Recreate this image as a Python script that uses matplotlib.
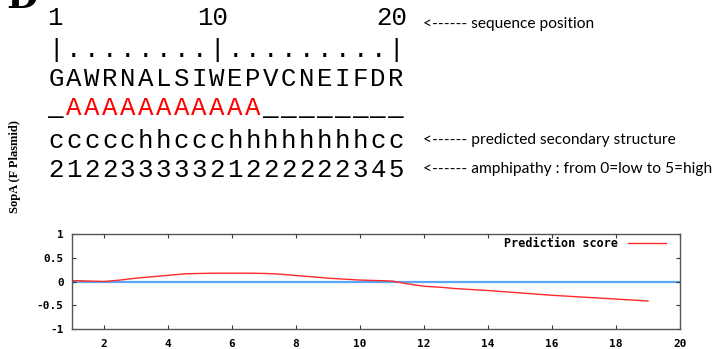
import matplotlib
matplotlib.use('Agg')
import matplotlib.pyplot as plt

# ----- data -----
ruler_labels = ['1', '10', '20']
ruler = '|........|.........|'
sequence = 'GAWRNALSIWEPVCNEIFDR'
helix_row = '_AAAAAAAAAAA________'
structure = 'ccccchhccchhhhhhhhcc'
amphipathy = '21223333321222222345'
notes = ['<------ sequence position',
         '<------ predicted secondary structure',
         '<------ amphipathy : from 0=low to 5=high']

position = [1, 1.5, 2, 2.5, 3, 3.5, 4, 4.5, 5, 5.5, 6, 6.5, 7, 7.5, 8, 8.5,
            9, 9.5, 10, 10.5, 11, 11.5, 12, 12.5, 13, 14, 15, 16, 17, 18, 19]
score = [0.02, 0.01, 0.0, 0.03, 0.07, 0.10, 0.13, 0.16, 0.17, 0.175, 0.175,
         0.175, 0.17, 0.155, 0.125, 0.10, 0.07, 0.05, 0.03, 0.02, 0.01,
         -0.05, -0.10, -0.12, -0.15, -0.19, -0.24, -0.29, -0.33, -0.37, -0.41]
xticks = [2, 4, 6, 8, 10, 12, 14, 16, 18, 20]
yticks = [-1, -0.5, 0, 0.5, 1]
ytick_labels = ['-1', '-0.5', '0', '0.5', '1']

W, H = 712, 349
fig = plt.figure(figsize=(W / 100, H / 100), dpi=100)

def fx(px):
    return px / W

def fy(py):
    return 1 - py / H

MONO = 'Liberation Mono'
SEQ_SIZE = 18.5
col0, colw = 56, 17.9

def put_row(s, base_y, colors=None):
    for i, ch in enumerate(s):
        c = colors(ch) if colors else 'black'
        fig.text(fx(col0 + i * colw), fy(base_y), ch, ha='center', va='baseline',
                 family=MONO, fontsize=SEQ_SIZE, color=c)

# panel letter, cut off at the top
fig.text(fx(22), fy(8), 'D', ha='center', va='baseline', family='DejaVu Serif',
         fontweight='bold', fontsize=26)

# sequence position numbers
for lab, cx in zip(ruler_labels, [55, 213, 392]):
    fig.text(fx(cx), fy(25), lab, ha='center', va='baseline', family=MONO,
             fontsize=SEQ_SIZE)

put_row(ruler, 57)
put_row(sequence, 86)
put_row(helix_row, 115, colors=lambda ch: 'red' if ch == 'A' else 'black')
put_row(structure, 148)
put_row(amphipathy, 177)

# annotations on the right (last one runs off the edge as in the original)
for txt, y in zip(notes, [24, 140, 169]):
    fig.text(fx(423), fy(y), txt, ha='left', va='center', family='Lato',
             fontsize=11.2)

# y label
fig.text(fx(15), fy(167), 'SopA (F Plasmid)', rotation=90, ha='center',
         va='center', family='Liberation Serif', fontweight='bold', fontsize=9)

# ----- prediction score chart -----
ax = fig.add_axes([fx(72), fy(329), (680 - 72) / W, (329 - 234) / H])
ax.axhline(0, color='#5aa8f5', lw=1.6, zorder=1)
ax.plot(position, score, color='#ff2a2a', lw=1.0, label='Prediction score', zorder=2)
ax.set_xlim(1, 20)
ax.set_ylim(-1, 1)
ax.set_xticks(xticks)
ax.set_yticks(yticks)
ax.set_yticklabels(ytick_labels)
ax.tick_params(direction='in', length=3, width=0.8, color='#333333',
               top=True, right=True)
ax.tick_params(axis='x', pad=7)
ax.tick_params(axis='y', pad=6)
for lab in ax.get_xticklabels() + ax.get_yticklabels():
    lab.set_family('DejaVu Sans Mono')
    lab.set_fontweight('bold')
    lab.set_fontsize(8)
for sp in ax.spines.values():
    sp.set_color('#555555')
    sp.set_linewidth(1.0)

ax.legend(loc='center right', bbox_to_anchor=(0.977, 0.895), markerfirst=False,
          frameon=False, borderpad=0, borderaxespad=0, handlelength=3.2,
          handletextpad=0.9,
          prop={'family': 'DejaVu Sans Mono', 'weight': 'bold', 'size': 8.5})

fig.savefig('out.png', dpi=100)
